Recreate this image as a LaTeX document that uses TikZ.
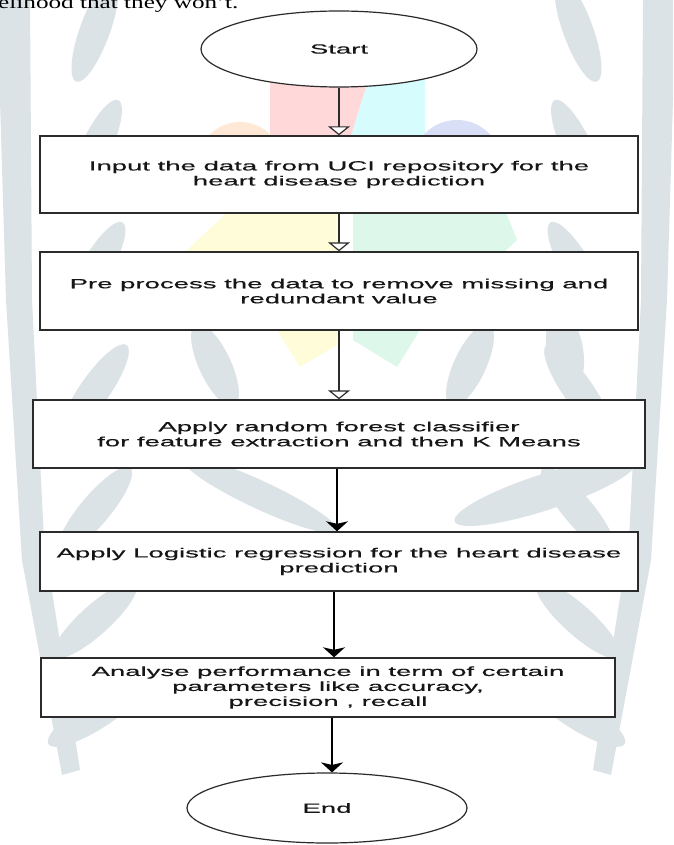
\documentclass[tikz,border=0pt]{standalone}
\usepackage{fontspec}
\usetikzlibrary{arrows.meta,shapes.geometric}
\newfontfamily\widesans[FakeStretch=2.07,FakeBold=0.4]{Liberation Sans}
\newfontfamily\wideserif[FakeStretch=1.4]{Liberation Serif}
\definecolor{wmgrey}{HTML}{DCE3E7}
\definecolor{wmpink}{HTML}{FFD9DA}
\definecolor{wmcyan}{HTML}{D6FCFD}
\definecolor{wmorange}{HTML}{FFE9D6}
\definecolor{wmblue}{HTML}{D9DFF7}
\definecolor{wmyellow}{HTML}{FFFCD9}
\definecolor{wmgreen}{HTML}{DDF8EA}
\definecolor{edge}{HTML}{2B2B2B}
\definecolor{ink}{HTML}{161616}
\begin{document}
\begin{tikzpicture}[x=1pt,y=-1pt,
  stepbox/.style={draw=edge, line width=1.4pt, fill=white, rectangle, inner sep=0pt,
    font=\widesans\fontsize{13.3}{15}\selectfont, text=ink, align=center},
  term/.style={draw=edge, line width=1.2pt, fill=white, ellipse, inner sep=0pt,
    font=\widesans\fontsize{13.3}{15}\selectfont, text=ink},
  openarrow/.style={draw=edge, line width=1.5pt, -{Triangle[width=22pt,length=9pt,fill=white,line width=1.2pt]}},
  fullarrow/.style={draw=black, line width=1.5pt, -{Stealth[width=22pt,length=10pt,inset=2.5pt]}},
  leaf/.style={fill=wmgrey}]
\useasboundingbox (0,0) rectangle (673,845);
\clip (0,0) rectangle (673,845);
\fill[white] (0,0) rectangle (673,845);

% --- watermark: laurel (light grey) ---
\fill[wmgrey] (0,0) -- (30,0) -- (32,300) -- (44,540) -- (80,770) -- (62,775) -- (22,560) -- (6,300) -- (0,100) -- cycle;
\fill[wmgrey] (673,0) -- (643,0) -- (641,300) -- (629,540) -- (593,770) -- (611,775) -- (651,560) -- (667,300) -- (673,100) -- cycle;
\foreach \yy/\aa in {30/70, 150/65, 270/60, 390/55, 510/50, 620/42, 715/32} {
  \fill[leaf, rotate around={\aa:(95,\yy)}] (95,\yy) ellipse [x radius=55, y radius=15];
  \fill[leaf, rotate around={180-\aa:(578,\yy)}] (578,\yy) ellipse [x radius=55, y radius=15];
}
\fill[leaf, rotate around={115:(215,365)}] (215,365) ellipse [x radius=45, y radius=16];
\fill[leaf, rotate around={65:(470,365)}] (470,365) ellipse [x radius=45, y radius=16];
\fill[leaf, rotate around={100:(565,350)}] (565,350) ellipse [x radius=40, y radius=18];
\fill[leaf, rotate around={-25:(260,495)}] (260,495) ellipse [x radius=85, y radius=14];
\fill[leaf, rotate around={18:(545,492)}] (545,492) ellipse [x radius=95, y radius=18];

% --- watermark: coloured logo ---
\fill[wmpink] (270,70) -- (372,70) -- (362,100) -- (350,140) -- (270,140) -- cycle;
\fill[wmcyan] (372,70) -- (425,70) -- (425,140) -- (350,140) -- (362,100) -- cycle;
\fill[wmorange] (240,165) circle [radius=43];
\fill[wmblue] (457,165) circle [radius=45];
\fill[wmyellow] (185,252) -- (230,210) -- (337,210) -- (337,345) -- (300,367) -- (277,330) -- (270,252) -- cycle;
\fill[wmgreen] (353,210) -- (505,210) -- (517,240) -- (420,330) -- (397,367) -- (353,340) -- cycle;

% --- page text above the figure ---
\node[anchor=base west, inner sep=0pt, font=\wideserif\fontsize{18}{20}\selectfont, text=black] (pagetext) at (-2,8.5) {elihood that they won’t.};

% --- flowchart ---
\node[term, minimum width=276pt, minimum height=76pt] (start) at (339,49) {Start};
\node[stepbox, minimum width=598pt, minimum height=77pt] (b1) at (339,174.5)
  {Input the data from UCI repository for the\\heart disease prediction};
\node[stepbox, minimum width=598pt, minimum height=78pt] (b2) at (339,291)
  {Pre process the data to remove missing and\\redundant value};
\node[stepbox, minimum width=612pt, minimum height=68pt] (b3) at (339,434)
  {Apply random forest classifier\\for feature extraction and then K Means};
\node[stepbox, minimum width=598pt, minimum height=59pt] (b4) at (339,561.5)
  {Apply Logistic regression for the heart disease\\prediction};
\node[stepbox, minimum width=574pt, minimum height=59pt] (b5) at (328,687.5)
  {Analyse performance in term of certain\\parameters like accuracy,\\precision , recall};
\node[term, minimum width=280pt, minimum height=70pt] (end) at (327,808) {End};

\draw[openarrow] (start) -- (b1);
\draw[openarrow] (b1) -- (b2);
\draw[openarrow] (b2) -- (b3);
\draw[fullarrow] ([xshift=-2pt]b3.south) -- ([xshift=-2pt]b3.south |- b4.north);
\draw[fullarrow] ([xshift=-5pt]b4.south) -- ([xshift=6pt]b5.north);
\draw[fullarrow] ([xshift=4pt]b5.south) -- ([xshift=5pt]end.north);
\end{tikzpicture}
\end{document}
